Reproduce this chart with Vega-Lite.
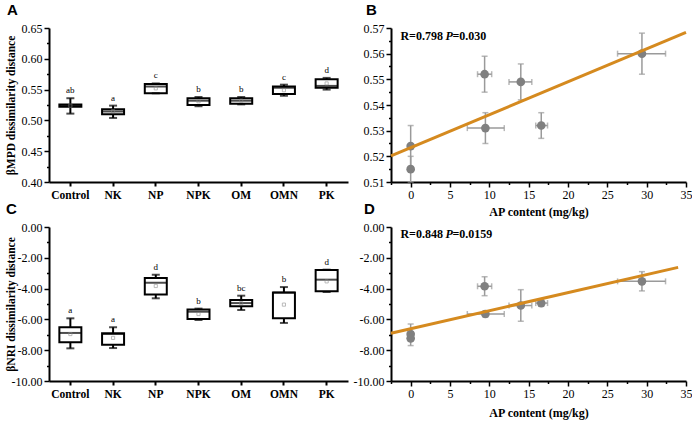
{
  "$schema": "https://vega.github.io/schema/vega-lite/v6.json",
  "columns": 2,
  "bounds": "flush",
  "spacing": {"row": 45, "column": 43},
  "padding": {"left": 5, "top": 3, "right": 5, "bottom": 5},
  "config": {
    "view": {"stroke": null},
    "axis": {"domainColor": "black", "domainWidth": 2, "tickColor": "black", "tickWidth": 1.5, "labelFont": "Liberation Serif", "labelFontSize": 12, "labelColor": "black", "titleFont": "Liberation Serif", "titleFontSize": 11.5, "titleFontWeight": "bold", "titleColor": "black", "grid": false, "labelFlush": false},
    "title": {"font": "Liberation Sans", "fontSize": 15, "fontWeight": "bold", "anchor": "start", "frame": "group", "baseline": "alphabetic", "offset": 4, "color": "black"}
  },
  "datasets": {
    "boxA": [
      {"group": "Control", "min": 0.511, "q1": 0.522, "median": 0.524, "q3": 0.526, "max": 0.536, "mean": 0.524, "letter": "ab"},
      {"group": "NK", "min": 0.504, "q1": 0.510, "median": 0.5145, "q3": 0.518, "max": 0.524, "mean": 0.515, "letter": "a"},
      {"group": "NP", "min": 0.544, "q1": 0.544, "median": 0.555, "q3": 0.559, "max": 0.560, "mean": 0.552, "letter": "c"},
      {"group": "NPK", "min": 0.523, "q1": 0.525, "median": 0.532, "q3": 0.536, "max": 0.538, "mean": 0.531, "letter": "b"},
      {"group": "OM", "min": 0.526, "q1": 0.527, "median": 0.532, "q3": 0.536, "max": 0.538, "mean": 0.532, "letter": "b"},
      {"group": "OMN", "min": 0.540, "q1": 0.543, "median": 0.553, "q3": 0.555, "max": 0.558, "mean": 0.549, "letter": "c"},
      {"group": "PK", "min": 0.550, "q1": 0.553, "median": 0.556, "q3": 0.567, "max": 0.569, "mean": 0.560, "letter": "d"}
    ],
    "boxC": [
      {"group": "Control", "min": -7.88, "q1": -7.49, "median": -6.88, "q3": -6.51, "max": -5.93, "mean": -6.95, "letter": "a"},
      {"group": "NK", "min": -7.86, "q1": -7.64, "median": -6.95, "q3": -6.9, "max": -6.51, "mean": -7.2, "letter": "a"},
      {"group": "NP", "min": -4.63, "q1": -4.39, "median": -3.62, "q3": -3.31, "max": -3.1, "mean": -3.83, "letter": "d"},
      {"group": "NPK", "min": -6.04, "q1": -5.97, "median": -5.5, "q3": -5.35, "max": -5.3, "mean": -5.65, "letter": "b"},
      {"group": "OM", "min": -5.39, "q1": -5.15, "median": -4.94, "q3": -4.74, "max": -4.46, "mean": -4.94, "letter": "bc"},
      {"group": "OMN", "min": -6.23, "q1": -5.93, "median": -4.26, "q3": -4.26, "max": -3.9, "mean": -5.04, "letter": "b"},
      {"group": "PK", "min": -4.22, "q1": -4.18, "median": -3.42, "q3": -2.79, "max": -2.77, "mean": -3.53, "letter": "d"}
    ],
    "scatter": [
      {"group": "Control", "ap": 0, "apLo": 0, "apHi": 0, "mpd": 0.524, "mpdLo": 0.516, "mpdHi": 0.532, "nri": -6.95, "nriLo": -7.3, "nriHi": -6.3},
      {"group": "NK", "ap": 0, "apLo": 0, "apHi": 0, "mpd": 0.515, "mpdLo": 0.510, "mpdHi": 0.520, "nri": -7.23, "nriLo": -7.7, "nriHi": -6.8},
      {"group": "NP", "ap": 9.4, "apLo": 8.5, "apHi": 10.3, "mpd": 0.552, "mpdLo": 0.545, "mpdHi": 0.559, "nri": -3.85, "nriLo": -4.46, "nriHi": -3.23},
      {"group": "NPK", "ap": 9.5, "apLo": 7.2, "apHi": 11.9, "mpd": 0.531, "mpdLo": 0.525, "mpdHi": 0.537, "nri": -5.65, "nriLo": -5.85, "nriHi": -5.45},
      {"group": "OM", "ap": 16.6, "apLo": 15.9, "apHi": 17.4, "mpd": 0.532, "mpdLo": 0.527, "mpdHi": 0.537, "nri": -4.94, "nriLo": -5.15, "nriHi": -4.73},
      {"group": "OMN", "ap": 14.0, "apLo": 12.5, "apHi": 15.4, "mpd": 0.549, "mpdLo": 0.542, "mpdHi": 0.556, "nri": -5.1, "nriLo": -6.12, "nriHi": -4.07},
      {"group": "PK", "ap": 29.4, "apLo": 26.3, "apHi": 32.4, "mpd": 0.560, "mpdLo": 0.552, "mpdHi": 0.568, "nri": -3.53, "nriLo": -4.15, "nriHi": -2.9}
    ],
    "fitB": [{"ap": -2.5, "v": 0.5202}, {"ap": 35, "v": 0.5683}],
    "fitD": [{"ap": -2.5, "v": -6.9}, {"ap": 34, "v": -2.62}],
    "annB": [{"ap": -1.3, "v": 0.5669, "r": "R=0.798", "p": "P", "rest": "=0.030"}],
    "annD": [{"ap": -1.3, "v": -0.45, "r": "R=0.848", "p": "P", "rest": "=0.0159"}]
  },
  "concat": [
    {
      "title": {"text": "A", "dx": -42},
      "width": 299, "height": 154,
      "data": {"name": "boxA"},
      "encoding": {
        "x": {"field": "group", "type": "nominal", "sort": null, "scale": {"type": "band", "paddingInner": 0, "paddingOuter": 0},
              "axis": {"title": null, "labelAngle": 0, "labelFontWeight": "bold", "labelFontSize": 11.5, "tickSize": 4, "tickWidth": 2, "labelPadding": 3}}
      },
      "layer": [
        {"mark": {"type": "rule", "color": "black", "strokeWidth": 2},
         "encoding": {"y": {"field": "min", "type": "quantitative", "title": "βMPD dissimilarity distance",
            "scale": {"domain": [0.4, 0.65], "nice": false, "zero": false},
            "axis": {"values": [0.4, 0.425, 0.45, 0.475, 0.5, 0.525, 0.55, 0.575, 0.6, 0.625, 0.65], "tickCount": 100, "labelOverlap": false,
              "labelExpr": "abs(datum.value*20-round(datum.value*20))<0.01 ? format(datum.value,'.2f') : ''",
              "tickSize": {"condition": {"test": "abs(datum.value*20-round(datum.value*20))>=0.01", "value": 2.5}, "value": 5},
              "titleX": -38, "titleBaseline": "middle"}},
           "y2": {"field": "max"}}},
        {"mark": {"type": "bar", "fill": "white", "stroke": "black", "strokeWidth": 2, "size": 22},
         "encoding": {"y": {"field": "q1", "type": "quantitative"}, "y2": {"field": "q3"}}},
        {"mark": {"type": "tick", "color": "black", "size": 22, "thickness": 2},
         "encoding": {"y": {"field": "median", "type": "quantitative"}}},
        {"mark": {"type": "tick", "color": "black", "size": 8, "thickness": 2},
         "encoding": {"y": {"field": "min", "type": "quantitative"}}},
        {"mark": {"type": "tick", "color": "black", "size": 8, "thickness": 2},
         "encoding": {"y": {"field": "max", "type": "quantitative"}}},
        {"mark": {"type": "point", "shape": "square", "size": 10, "filled": false, "color": "#888888", "strokeWidth": 0.8},
         "encoding": {"y": {"field": "mean", "type": "quantitative"}}},
        {"mark": {"type": "text", "font": "Liberation Serif", "fontSize": 9, "baseline": "bottom", "dy": -3, "fill": "black"},
         "encoding": {"y": {"field": "max", "type": "quantitative"}, "text": {"field": "letter"}}}
      ]
    },
    {
      "title": {"text": "B", "dx": -25},
      "width": 295, "height": 154,
      "layer": [
        {"data": {"name": "scatter"},
         "mark": {"type": "rule", "color": "#9a9a9a", "strokeWidth": 1.5},
         "encoding": {
           "x": {"field": "apLo", "type": "quantitative", "title": "AP content (mg/kg)",
             "scale": {"domain": [-2.5, 35], "nice": false, "zero": false},
             "axis": {"values": [-2.5, 0, 2.5, 5, 7.5, 10, 12.5, 15, 17.5, 20, 22.5, 25, 27.5, 30, 32.5, 35], "tickCount": 100, "labelOverlap": false,
               "labelExpr": "datum.value % 5 == 0 ? format(datum.value,'d') : ''",
               "tickSize": {"condition": {"test": "datum.value % 5 != 0", "value": 2.5}, "value": 5},
               "titleFontSize": 12, "titlePadding": 6}},
           "x2": {"field": "apHi"},
           "y": {"field": "mpd", "type": "quantitative", "title": null,
             "scale": {"domain": [0.51, 0.57], "nice": false, "zero": false},
             "axis": {"values": [0.51, 0.515, 0.52, 0.525, 0.53, 0.535, 0.54, 0.545, 0.55, 0.555, 0.56, 0.565, 0.57], "tickCount": 100, "labelOverlap": false,
               "labelExpr": "abs(datum.value*100-round(datum.value*100))<0.01 ? format(datum.value,'.2f') : ''",
               "tickSize": {"condition": {"test": "abs(datum.value*100-round(datum.value*100))>=0.01", "value": 2.5}, "value": 5}}}}},
        {"data": {"name": "scatter"},
         "mark": {"type": "tick", "orient": "vertical", "color": "#9a9a9a", "size": 6, "thickness": 1.5},
         "encoding": {"x": {"field": "apLo", "type": "quantitative"}, "y": {"field": "mpd", "type": "quantitative"}}},
        {"data": {"name": "scatter"},
         "mark": {"type": "tick", "orient": "vertical", "color": "#9a9a9a", "size": 6, "thickness": 1.5},
         "encoding": {"x": {"field": "apHi", "type": "quantitative"}, "y": {"field": "mpd", "type": "quantitative"}}},
        {"data": {"name": "scatter"},
         "mark": {"type": "rule", "color": "#9a9a9a", "strokeWidth": 1.5},
         "encoding": {"x": {"field": "ap", "type": "quantitative"}, "y": {"field": "mpdLo", "type": "quantitative"}, "y2": {"field": "mpdHi"}}},
        {"data": {"name": "scatter"},
         "mark": {"type": "tick", "orient": "horizontal", "color": "#9a9a9a", "size": 6, "thickness": 1.5},
         "encoding": {"x": {"field": "ap", "type": "quantitative"}, "y": {"field": "mpdLo", "type": "quantitative"}}},
        {"data": {"name": "scatter"},
         "mark": {"type": "tick", "orient": "horizontal", "color": "#9a9a9a", "size": 6, "thickness": 1.5},
         "encoding": {"x": {"field": "ap", "type": "quantitative"}, "y": {"field": "mpdHi", "type": "quantitative"}}},
        {"data": {"name": "scatter"},
         "mark": {"type": "circle", "color": "#808080", "size": 75, "opacity": 1},
         "encoding": {"x": {"field": "ap", "type": "quantitative"}, "y": {"field": "mpd", "type": "quantitative"}}},
        {"data": {"name": "fitB"},
         "mark": {"type": "line", "color": "#D58A1F", "strokeWidth": 3},
         "encoding": {"x": {"field": "ap", "type": "quantitative"}, "y": {"field": "v", "type": "quantitative"}}},
        {"data": {"name": "annB"},
         "mark": {"type": "text", "font": "Liberation Serif", "fontSize": 12, "fontWeight": "bold", "align": "left", "baseline": "middle", "fill": "black"},
         "encoding": {"x": {"field": "ap", "type": "quantitative"}, "y": {"field": "v", "type": "quantitative"}, "text": {"field": "r"}}},
        {"data": {"name": "annB"},
         "mark": {"type": "text", "font": "Liberation Serif", "fontSize": 12, "fontWeight": "bold", "fontStyle": "italic", "align": "left", "baseline": "middle", "fill": "black", "dx": 45},
         "encoding": {"x": {"field": "ap", "type": "quantitative"}, "y": {"field": "v", "type": "quantitative"}, "text": {"field": "p"}}},
        {"data": {"name": "annB"},
         "mark": {"type": "text", "font": "Liberation Serif", "fontSize": 12, "fontWeight": "bold", "align": "left", "baseline": "middle", "fill": "black", "dx": 52},
         "encoding": {"x": {"field": "ap", "type": "quantitative"}, "y": {"field": "v", "type": "quantitative"}, "text": {"field": "rest"}}}
      ]
    },
    {
      "title": {"text": "C", "dx": -43},
      "width": 299, "height": 154,
      "data": {"name": "boxC"},
      "encoding": {
        "x": {"field": "group", "type": "nominal", "sort": null, "scale": {"type": "band", "paddingInner": 0, "paddingOuter": 0},
              "axis": {"title": null, "labelAngle": 0, "labelFontWeight": "bold", "labelFontSize": 11.5, "tickSize": 4, "tickWidth": 2, "labelPadding": 3}}
      },
      "layer": [
        {"mark": {"type": "rule", "color": "black", "strokeWidth": 2},
         "encoding": {"y": {"field": "min", "type": "quantitative", "title": "βNRI dissimilarity distance",
            "scale": {"domain": [-10, 0], "nice": false, "zero": false},
            "axis": {"values": [-10, -9, -8, -7, -6, -5, -4, -3, -2, -1, 0], "tickCount": 100, "labelOverlap": false,
              "labelExpr": "datum.value % 2 == 0 ? replace(format(datum.value,'.2f'),'−','-') : ''",
              "tickSize": {"condition": {"test": "datum.value % 2 != 0", "value": 2.5}, "value": 5},
              "titleX": -38, "titleBaseline": "middle"}},
           "y2": {"field": "max"}}},
        {"mark": {"type": "bar", "fill": "white", "stroke": "black", "strokeWidth": 2, "size": 22},
         "encoding": {"y": {"field": "q1", "type": "quantitative"}, "y2": {"field": "q3"}}},
        {"mark": {"type": "tick", "color": "black", "size": 22, "thickness": 2},
         "encoding": {"y": {"field": "median", "type": "quantitative"}}},
        {"mark": {"type": "tick", "color": "black", "size": 8, "thickness": 2},
         "encoding": {"y": {"field": "min", "type": "quantitative"}}},
        {"mark": {"type": "tick", "color": "black", "size": 8, "thickness": 2},
         "encoding": {"y": {"field": "max", "type": "quantitative"}}},
        {"mark": {"type": "point", "shape": "square", "size": 10, "filled": false, "color": "#888888", "strokeWidth": 0.8},
         "encoding": {"y": {"field": "mean", "type": "quantitative"}}},
        {"mark": {"type": "text", "font": "Liberation Serif", "fontSize": 9, "baseline": "bottom", "dy": -3, "fill": "black"},
         "encoding": {"y": {"field": "max", "type": "quantitative"}, "text": {"field": "letter"}}}
      ]
    },
    {
      "title": {"text": "D", "dx": -27},
      "width": 295, "height": 154,
      "layer": [
        {"data": {"name": "scatter"},
         "mark": {"type": "rule", "color": "#9a9a9a", "strokeWidth": 1.5},
         "encoding": {
           "x": {"field": "apLo", "type": "quantitative", "title": "AP content (mg/kg)",
             "scale": {"domain": [-2.5, 35], "nice": false, "zero": false},
             "axis": {"values": [-2.5, 0, 2.5, 5, 7.5, 10, 12.5, 15, 17.5, 20, 22.5, 25, 27.5, 30, 32.5, 35], "tickCount": 100, "labelOverlap": false,
               "labelExpr": "datum.value % 5 == 0 ? format(datum.value,'d') : ''",
               "tickSize": {"condition": {"test": "datum.value % 5 != 0", "value": 2.5}, "value": 5},
               "titleFontSize": 12, "titlePadding": 8}},
           "x2": {"field": "apHi"},
           "y": {"field": "nri", "type": "quantitative", "title": null,
             "scale": {"domain": [-10, 0], "nice": false, "zero": false},
             "axis": {"values": [-10, -9, -8, -7, -6, -5, -4, -3, -2, -1, 0], "tickCount": 100, "labelOverlap": false,
               "labelExpr": "datum.value % 2 == 0 ? replace(format(datum.value,'.2f'),'−','-') : ''",
               "tickSize": {"condition": {"test": "datum.value % 2 != 0", "value": 2.5}, "value": 5}}}}},
        {"data": {"name": "scatter"},
         "mark": {"type": "tick", "orient": "vertical", "color": "#9a9a9a", "size": 6, "thickness": 1.5},
         "encoding": {"x": {"field": "apLo", "type": "quantitative"}, "y": {"field": "nri", "type": "quantitative"}}},
        {"data": {"name": "scatter"},
         "mark": {"type": "tick", "orient": "vertical", "color": "#9a9a9a", "size": 6, "thickness": 1.5},
         "encoding": {"x": {"field": "apHi", "type": "quantitative"}, "y": {"field": "nri", "type": "quantitative"}}},
        {"data": {"name": "scatter"},
         "mark": {"type": "rule", "color": "#9a9a9a", "strokeWidth": 1.5},
         "encoding": {"x": {"field": "ap", "type": "quantitative"}, "y": {"field": "nriLo", "type": "quantitative"}, "y2": {"field": "nriHi"}}},
        {"data": {"name": "scatter"},
         "mark": {"type": "tick", "orient": "horizontal", "color": "#9a9a9a", "size": 6, "thickness": 1.5},
         "encoding": {"x": {"field": "ap", "type": "quantitative"}, "y": {"field": "nriLo", "type": "quantitative"}}},
        {"data": {"name": "scatter"},
         "mark": {"type": "tick", "orient": "horizontal", "color": "#9a9a9a", "size": 6, "thickness": 1.5},
         "encoding": {"x": {"field": "ap", "type": "quantitative"}, "y": {"field": "nriHi", "type": "quantitative"}}},
        {"data": {"name": "scatter"},
         "mark": {"type": "circle", "color": "#808080", "size": 75, "opacity": 1},
         "encoding": {"x": {"field": "ap", "type": "quantitative"}, "y": {"field": "nri", "type": "quantitative"}}},
        {"data": {"name": "fitD"},
         "mark": {"type": "line", "color": "#D58A1F", "strokeWidth": 3},
         "encoding": {"x": {"field": "ap", "type": "quantitative"}, "y": {"field": "v", "type": "quantitative"}}},
        {"data": {"name": "annD"},
         "mark": {"type": "text", "font": "Liberation Serif", "fontSize": 12, "fontWeight": "bold", "align": "left", "baseline": "middle", "fill": "black"},
         "encoding": {"x": {"field": "ap", "type": "quantitative"}, "y": {"field": "v", "type": "quantitative"}, "text": {"field": "r"}}},
        {"data": {"name": "annD"},
         "mark": {"type": "text", "font": "Liberation Serif", "fontSize": 12, "fontWeight": "bold", "fontStyle": "italic", "align": "left", "baseline": "middle", "fill": "black", "dx": 45},
         "encoding": {"x": {"field": "ap", "type": "quantitative"}, "y": {"field": "v", "type": "quantitative"}, "text": {"field": "p"}}},
        {"data": {"name": "annD"},
         "mark": {"type": "text", "font": "Liberation Serif", "fontSize": 12, "fontWeight": "bold", "align": "left", "baseline": "middle", "fill": "black", "dx": 52},
         "encoding": {"x": {"field": "ap", "type": "quantitative"}, "y": {"field": "v", "type": "quantitative"}, "text": {"field": "rest"}}}
      ]
    }
  ]
}
